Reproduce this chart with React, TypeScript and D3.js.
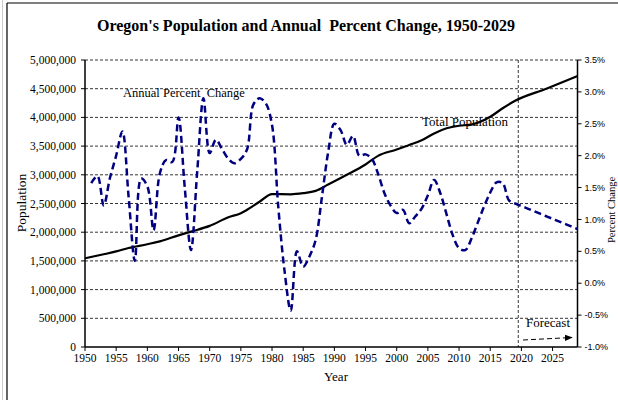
import React from 'react';
import * as d3 from 'd3';

// total population
const popYears = [1950, 1953, 1955, 1957, 1960, 1962, 1965, 1967, 1970, 1973, 1975, 1976, 1978, 1980, 1983, 1985, 1987, 1989, 1992, 1995, 1997, 2000, 2002, 2004, 2006, 2008, 2010, 2012, 2015, 2017, 2019, 2024, 2029];
const popValues = [1545000, 1615000, 1665000, 1725000, 1790000, 1840000, 1945000, 2010000, 2110000, 2260000, 2330000, 2390000, 2530000, 2665000, 2660000, 2680000, 2720000, 2830000, 3000000, 3180000, 3330000, 3440000, 3520000, 3600000, 3720000, 3810000, 3855000, 3875000, 4010000, 4160000, 4290000, 4500000, 4720000];

// annual percent change, 1951-2029
const pctYears = d3.range(1951, 2030);
const pctValues = [
  1.57, 1.68, 1.22, 1.65, 2.0, 2.38, 1.35, 0.35, 1.64, 1.52,
  0.83, 1.72, 1.93, 1.9, 2.6, 1.5, 0.52, 1.75, 2.9, 2.04,
  2.25, 2.1, 1.95, 1.88, 1.95, 2.1, 2.8, 2.9, 2.82, 2.48,
  1.2, 0.2, -0.43, 0.5, 0.26, 0.42, 0.68, 1.35, 2.05, 2.5,
  2.4, 2.17, 2.31, 2.0, 2.02, 1.95, 1.72, 1.42, 1.22, 1.1,
  1.15, 0.94, 1.05, 1.17, 1.38, 1.62, 1.41, 1.08, 0.75, 0.55,
  0.52, 0.7, 0.95, 1.2, 1.42, 1.58, 1.57, 1.3, 1.25, 1.21,
  1.17, 1.13, 1.09, 1.05, 1.01, 0.97, 0.93, 0.89, 0.85,
];

const popTicks = d3.range(0, 5000001, 500000);
const pctTicks = d3.range(-1, 3.51, 0.5);
const yearTicks = d3.range(1950, 2026, 5);
const forecastStart = 2019.5;

const serif = '"Liberation Serif", "Times New Roman", serif';
const sans = '"Liberation Sans", Arial, sans-serif';

export default function App() {
  const width = 618;
  const height = 400;
  const left = 85, right = 577.5, top = 60, bottom = 347;

  const x = d3.scaleLinear().domain([1950, 2029]).range([left, right]);
  const yPop = d3.scaleLinear().domain([0, 5000000]).range([bottom, top]);
  const yPct = d3.scaleLinear().domain([-1, 3.5]).range([bottom, top]);

  const popLine = d3.line<number>()
    .x((_, i) => x(popYears[i]))
    .y(d => yPop(d))
    .curve(d3.curveMonotoneX);

  const pctLine = d3.line<number>()
    .x((_, i) => x(pctYears[i]))
    .y(d => yPct(d))
    .curve(d3.curveCatmullRom);

  const fmt = d3.format(',');
  const pre = {whiteSpace: 'pre' as const};

  return (
    <svg width={width} height={height} style={{position: 'absolute', left: 0, top: 0, background: '#fff'}}>
      <defs>
        <marker id="arr" viewBox="0 0 10 10" refX="9" refY="5" markerWidth="8" markerHeight="8" orient="auto">
          <path d="M0,1 L10,5 L0,9 z" fill="#000" />
        </marker>
      </defs>
      {/* frame */}
      <line x1={2.5} x2={2.5} y1={0} y2={height} stroke="#ccc" />
      <line x1={7} x2={7} y1={3} y2={height} stroke="#000" strokeWidth={1.2} />
      <line x1={7} x2={width} y1={3} y2={3} stroke="#000" strokeWidth={1.2} />

      <text x={306} y={31} textAnchor="middle" fontFamily={serif} fontWeight="bold" fontSize={16} style={pre}>
        {"Oregon's Population and Annual  Percent Change, 1950-2029"}
      </text>

      {/* grid */}
      {popTicks.filter(t => t > 0).map(t => (
        <line key={t} x1={left} x2={right} y1={yPop(t)} y2={yPop(t)} stroke="#000" strokeWidth={0.8} strokeDasharray="3,2" />
      ))}

      {/* forecast divider */}
      <line x1={x(forecastStart)} x2={x(forecastStart)} y1={top} y2={bottom} stroke="#000" strokeWidth={0.8} strokeDasharray="3,2" />

      {/* axes */}
      <line x1={left} x2={left} y1={top} y2={bottom} stroke="#000" strokeWidth={1.5} />
      <line x1={right} x2={right} y1={top} y2={bottom} stroke="#000" strokeWidth={1.5} />
      <line x1={left} x2={right} y1={bottom} y2={bottom} stroke="#000" strokeWidth={1.5} />

      {popTicks.map(t => (
        <g key={t}>
          <line x1={left - 4} x2={left} y1={yPop(t)} y2={yPop(t)} stroke="#000" />
          <text x={left - 9} y={yPop(t)} dy="0.35em" textAnchor="end" fontFamily={serif} fontSize={11.5}>{fmt(t)}</text>
        </g>
      ))}

      {pctTicks.map(t => (
        <g key={t}>
          <line x1={right} x2={right + 4} y1={yPct(t)} y2={yPct(t)} stroke="#000" />
          <text x={right + 7} y={yPct(t)} dy="0.35em" fontFamily={sans} fontSize={9}>{t.toFixed(1)}%</text>
        </g>
      ))}

      {yearTicks.map(t => (
        <g key={t}>
          <line x1={x(t)} x2={x(t)} y1={bottom} y2={bottom + 4} stroke="#000" />
          <text x={x(t)} y={362} textAnchor="middle" fontFamily={serif} fontSize={11.5}>{t}</text>
        </g>
      ))}

      <text x={336} y={381} textAnchor="middle" fontFamily={serif} fontSize={13}>Year</text>
      <text transform="translate(26,203) rotate(-90)" textAnchor="middle" fontFamily={serif} fontSize={13.5}>Population</text>
      <text transform="translate(615,210) rotate(-90)" textAnchor="middle" fontFamily={serif} fontSize={10.5}>Percent Change</text>

      {/* series */}
      <path d={popLine(popValues) || ''} fill="none" stroke="#000" strokeWidth={2.2} />
      <path d={pctLine(pctValues) || ''} fill="none" stroke="#000080" strokeWidth={2.5} strokeDasharray="7,4" />

      {/* annotations */}
      <text x={123} y={97} fontFamily={serif} fontSize={12.5} style={pre}>{'Annual Percent  Change'}</text>
      <text x={422} y={126} fontFamily={serif} fontSize={13}>Total Population</text>
      <text x={526} y={327} fontFamily={serif} fontSize={13}>Forecast</text>
      <line x1={523} x2={572} y1={340} y2={337.5} stroke="#000" strokeWidth={1} strokeDasharray="5,3" markerEnd="url(#arr)" />
    </svg>
  );
}
